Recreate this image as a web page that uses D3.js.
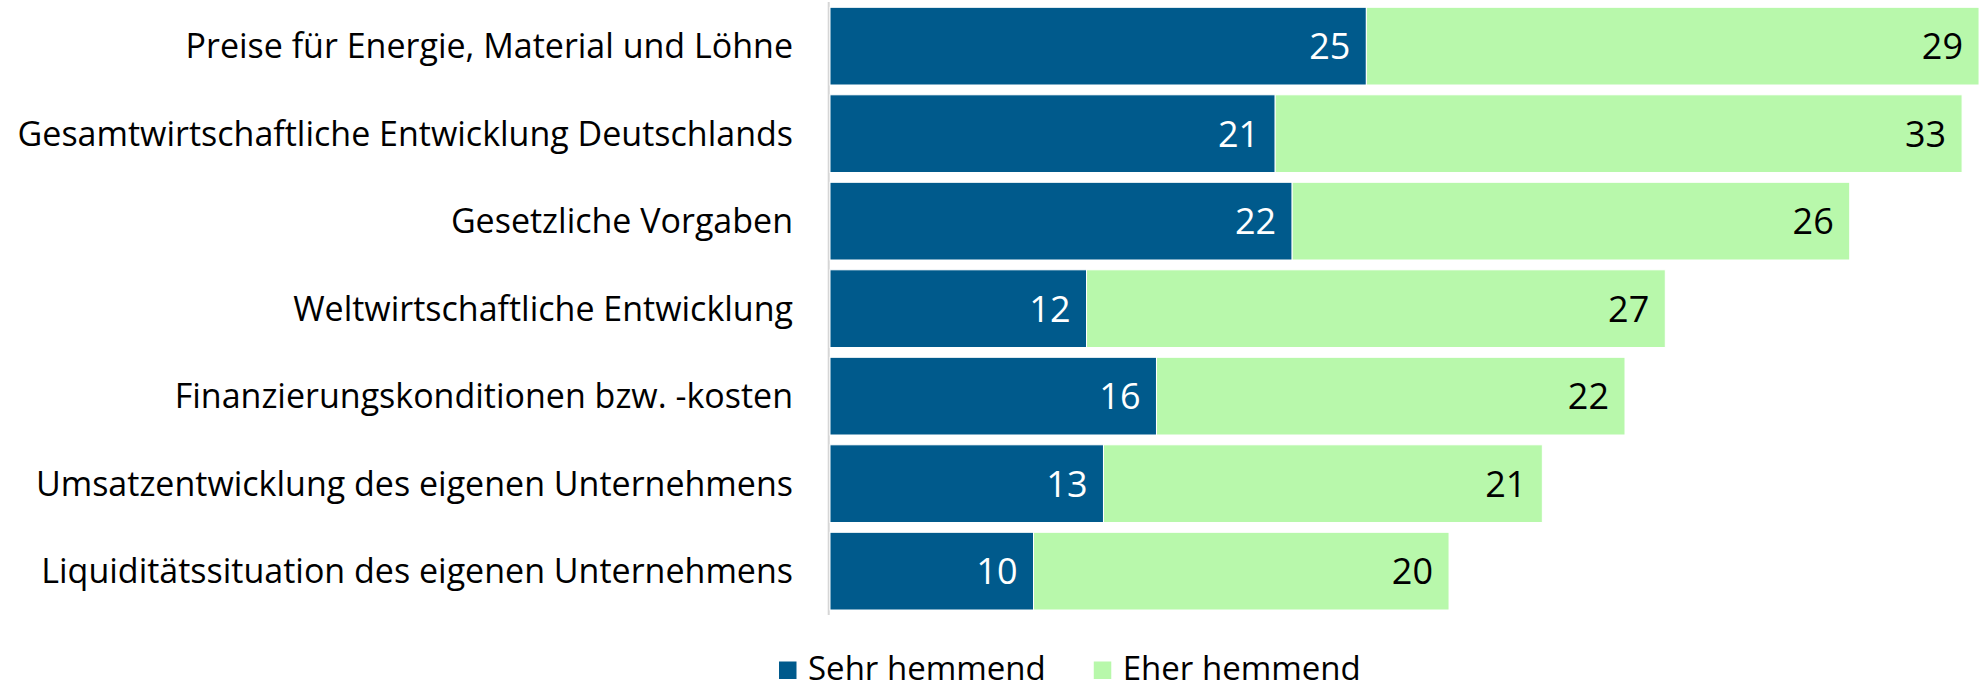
<!DOCTYPE html>
<html lang="de">
<head>
    <meta charset="UTF-8">
    <title>Hemmnisse</title>
    <script src="https://d3js.org/d3.v7.min.js"></script>
    <style>
        body { margin: 0; background: #fff; }
        text { font-family: "Open Sans", sans-serif; fill: #000; }
        .bar rect { stroke: #fff; stroke-width: 1; }
        .sehr { fill: #005a8c; }
        .eher { fill: #b8f8ab; }
        .val.sehr-lbl { fill: #fff; }
    </style>
</head>
<body>
    <svg width="1979" height="689"></svg>
    <script>
// Daten (Prozent)
const categories = [
    "Preise für Energie, Material und Löhne",
    "Gesamtwirtschaftliche Entwicklung Deutschlands",
    "Gesetzliche Vorgaben",
    "Weltwirtschaftliche Entwicklung",
    "Finanzierungskonditionen bzw. -kosten",
    "Umsatzentwicklung des eigenen Unternehmens",
    "Liquiditätssituation des eigenen Unternehmens"
];
const sehrHemmend = [25.3, 21.0, 21.8, 12.1, 15.4, 12.9, 9.6];
const eherHemmend = [28.9, 32.4, 26.3, 27.3, 22.1, 20.7, 19.6];
const sehrLabels = [25, 21, 22, 12, 16, 13, 10];
const eherLabels = [29, 33, 26, 27, 22, 21, 20];
const seriesNames = ["Sehr hemmend", "Eher hemmend"];

const svg = d3.select("svg");
const width = 1979, height = 689;

const x = d3.scaleLinear().domain([0, 50]).range([830, 1890]);
const y = d3.scaleBand().domain(categories).range([7.3, 610]).paddingInner(0.112).paddingOuter(0);

const rows = categories.map((c, i) => ({
    cat: c, sehr: sehrHemmend[i], eher: eherHemmend[i],
    sehrLbl: sehrLabels[i], eherLbl: eherLabels[i]
}));

// Achse links
svg.append("line")
    .attr("x1", 828.7).attr("x2", 828.7)
    .attr("y1", 2).attr("y2", 615)
    .attr("stroke", "#d6d6d6").attr("stroke-width", 2);

const g = svg.selectAll(".bar").data(rows).enter().append("g").attr("class", "bar");

g.append("rect").attr("class", "sehr")
    .attr("x", x(0))
    .attr("y", d => y(d.cat))
    .attr("width", d => x(d.sehr) - x(0))
    .attr("height", y.bandwidth());

g.append("rect").attr("class", "eher")
    .attr("x", d => x(d.sehr))
    .attr("y", d => y(d.cat))
    .attr("width", d => x(d.sehr + d.eher) - x(d.sehr))
    .attr("height", y.bandwidth());

// Werte
g.append("text").attr("class", "val sehr-lbl")
    .attr("x", d => x(d.sehr) - 16)
    .attr("y", d => y(d.cat) + y.bandwidth() / 2 + 13)
    .attr("text-anchor", "end")
    .style("font-size", "36px")
    .text(d => d.sehrLbl);

g.append("text").attr("class", "val")
    .attr("x", d => x(d.sehr + d.eher) - 16)
    .attr("y", d => y(d.cat) + y.bandwidth() / 2 + 13)
    .attr("text-anchor", "end")
    .style("font-size", "36px")
    .text(d => d.eherLbl);

// Kategorien
svg.selectAll(".cat").data(categories).enter().append("text")
    .attr("class", "cat")
    .attr("x", 793)
    .attr("y", d => y(d) + y.bandwidth() / 2 + 12)
    .attr("text-anchor", "end")
    .style("font-size", "34px")
    .text(d => d);

// Legende
const legendColors = ["#005a8c", "#b8f8ab"];
let lx = 779;
seriesNames.forEach((name, i) => {
    svg.append("rect")
        .attr("x", lx).attr("y", 661.5)
        .attr("width", 17.5).attr("height", 17.5)
        .attr("fill", legendColors[i]);
    const t = svg.append("text")
        .attr("x", lx + 29).attr("y", 679.5)
        .style("font-size", "33px")
        .text(name);
    lx += 29 + t.node().getComputedTextLength() + 48;
});
    </script>
</body>
</html>
